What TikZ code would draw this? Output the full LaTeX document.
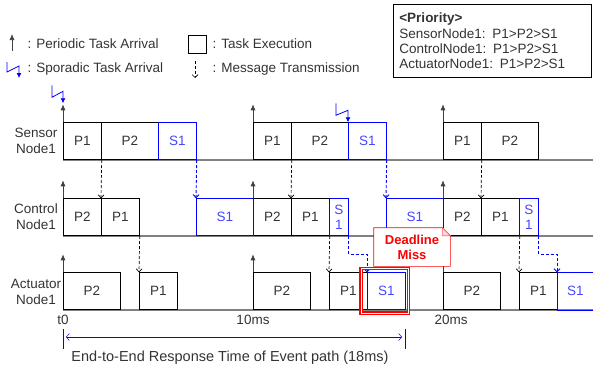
\documentclass[tikz,border=0pt]{standalone}
\usepackage{fontspec}
\setmainfont{Liberation Sans}
\usetikzlibrary{calc,arrows.meta}

\definecolor{txt}{gray}{0.2}
\definecolor{sblue}{RGB}{0,0,255}
\definecolor{stext}{RGB}{70,70,255}

\begin{document}
\begin{tikzpicture}[
    x=1pt,y=-1pt,
    line width=0.7pt,
    every node/.style={font=\fontsize{13.5}{15}\selectfont,text=txt},
    box/.style={draw,anchor=south west,minimum height=37pt,inner sep=0pt},
    boxs/.style={box,draw=sblue,text=stext},
    axisline/.style={draw=black!50,line width=1.6pt},
    arrival/.style={-{Latex[length=6pt,width=5pt]},draw=black!75},
    sporadic/.style={-{Latex[length=5pt,width=5pt]},draw=sblue,line width=0.8pt},
    msg/.style={-{Straight Barb[length=3pt,width=6pt]},densely dashed},
    msgs/.style={msg,draw=sblue,line width=0.9pt},
    rowlabel/.style={align=center,font=\fontsize{13.5}{16}\selectfont},
    missbox/.style={fill=white,minimum width=76pt,minimum height=38pt,inner sep=0pt,align=center,text=red,font=\bfseries\fontsize{13}{15}\selectfont},
  ]

  \useasboundingbox (0,0) rectangle (593,367);

  % legend
  \draw[arrival] (12,51) -- (12,34);
  \node at (24,44) [anchor=west] {: Periodic Task Arrival};
  \draw[sporadic] (7,62) -- (7,72) -- (19,66) -- (19,78);
  \node at (24,69) [anchor=west] {: Sporadic Task Arrival};
  \node (leg-box) at (197,44) [draw,minimum size=18pt,inner sep=0pt] {};
  \node at (209,44) [anchor=west] {: Task Execution};
  \draw[msg] (195,61) -- (195,78);
  \node at (209,69) [anchor=west] {: Message Transmission};

  \node (prio) at (393,4) [draw,anchor=north west,text width=186pt,inner xsep=6pt,minimum height=73pt,align=left]
    {\textbf{<Priority>}\\[1pt]SensorNode1: P1>P2>S1\\ControlNode1: P1>P2>S1\\ActuatorNode1: P1>P2>S1};

  \node at (36,141) [rowlabel] {Sensor\\Node1};
  \node at (36,217) [rowlabel] {Control\\Node1};
  \node at (36,292) [rowlabel] {Actuator\\Node1};

  \draw[axisline] (63,160) -- (593,160);
  \draw[axisline] (63,236) -- (593,236);
  \draw[axisline] (63,310) -- (593,310);

  \foreach \k in {0,...,2}
  {
    \node (s-p1-\k) at (63+\k*190,160) [box,minimum width=38pt] {P1};
    \node (s-p2-\k) at (101+\k*190,160) [box,minimum width=57pt] {P2};
    \node (c-p2-\k) at (63+\k*190,236) [box,minimum width=38pt] {P2};
    \node (c-p1-\k) at (101+\k*190,236) [box,minimum width=38pt] {P1};
    \node (a-p2-\k) at (63+\k*190,310) [box,minimum width=57pt] {P2};
    \node (a-p1-\k) at (139+\k*190,310) [box,minimum width=38pt] {P1};

    \draw[arrival] (s-p1-\k.north west) -- ++(0,-18);
    \draw[arrival] (c-p2-\k.north west) -- ++(0,-18);
    \draw[arrival] (a-p2-\k.north west) -- ++(0,-18);

    \draw[msg] (s-p1-\k.south east) -- (c-p1-\k.north west);
    \draw[msg] (c-p1-\k.south east) -- (a-p1-\k.north west);
  }

  \node (s-s1-0) at (158,160) [boxs,minimum width=38pt] {S1};
  \node (s-s1-1) at (348,160) [boxs,minimum width=38pt] {S1};
  \node (c-s1-0) at (196,236) [boxs,minimum width=57pt] {S1};
  \node (c-s1-1) at (329,236) [boxs,minimum width=19pt,align=center] {S\\1};
  \node (c-s1-2) at (386,236) [boxs,minimum width=57pt] {S1};
  \node (c-s1-3) at (519,236) [boxs,minimum width=19pt,align=center] {S\\1};
  \node (a-s1-0) at (367,310) [boxs,minimum width=38pt] {S1};
  \node (a-s1-1) at (557,310) [box,draw=none,text=stext,minimum width=36pt] {S1};
  \draw[sblue] (a-s1-1.north east) -- (a-s1-1.north west) -- (a-s1-1.south west) -- (a-s1-1.south east);

  \draw[sporadic] ([shift={(-11,-37)}]s-p1-0.north west) -- ++(0,12) -- ++(11,-6) -- ([yshift=19pt]s-p1-0.north west);
  \draw[sporadic] ([shift={(-12,-19)}]s-s1-1.north west) -- ++(0,12) -- ++(12,-5) -- (s-s1-1.north west);

  \draw[msgs] (s-s1-0.south east) -- (c-s1-0.north west);
  \draw[msgs] (s-s1-1.south east) -- (c-s1-2.north west);
  \draw[msgs] (c-s1-1.south east) -- ++(0,18) -| (a-s1-0.north west);
  \draw[msgs] (c-s1-3.south east) -- ++(0,18) -| (a-s1-1.north west);

  \draw[red,double=white,double distance=1pt,line width=1.1pt]
    ($(a-s1-0.north west)+(-6,-4)$) rectangle ($(a-s1-0.south east)+(3,3)$);

  \node (miss) at (412,247) [missbox] {Deadline\\Miss};
  \draw[red] (miss.south west) -- (miss.north west) -- ([xshift=-8pt]miss.north east)
    -- ([yshift=-8pt]miss.north east) -- (miss.south east) -- cycle;
  \draw[red!60,fill=red!15] ([xshift=-8pt]miss.north east) -- ([xshift=-8pt,yshift=-8pt]miss.north east)
    -- ([yshift=-8pt]miss.north east) -- cycle;

  \node at (63,320) {t0};
  \node at (253,320) {10ms};
  \node at (451,320) {20ms};

  \coordinate (e2e-a) at (63,337);
  \coordinate (e2e-b) at (405,337);
  \draw[sblue,line width=0.5pt] ([yshift=8pt]e2e-a) -- ([yshift=-12pt]e2e-a);
  \draw[sblue,line width=0.5pt] ([yshift=8pt]e2e-b) -- ([yshift=-12pt]e2e-b);
  \draw[{Straight Barb[length=3pt,width=7pt]}-{Straight Barb[length=3pt,width=7pt]},sblue,line width=0.5pt]
    ([xshift=3pt]e2e-a) -- ([xshift=-3pt]e2e-b);
  \node at (230,358) [font=\fontsize{14.5}{16}\selectfont] {End-to-End Response Time of Event path (18ms)};

\end{tikzpicture}
\end{document}
